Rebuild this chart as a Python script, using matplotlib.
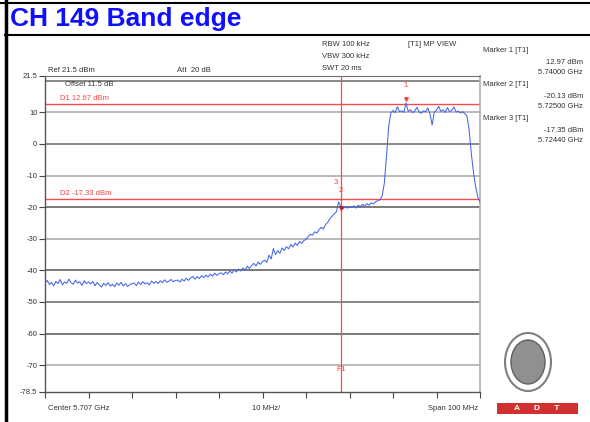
import matplotlib
matplotlib.use('Agg')
import matplotlib.pyplot as plt
from matplotlib.patches import Ellipse, Rectangle
from matplotlib.lines import Line2D
import numpy as np

plt.rcParams['font.family'] = ['Liberation Sans', 'DejaVu Sans']

# trace: frequency offset from start (MHz, start = 5.657 GHz), level in dBm
freq = np.arange(0, 100.5, 0.5)
level = [
    -44.0, -43.2, -44.5, -43.8, -44.9, -43.5, -44.2, -42.9, -44.6, -43.7, -44.1, -42.8, -43.9, -44.4, -43.1, -44.0, -43.6, -44.8, -43.3, -44.2, -43.7,
    -44.3, -43.5, -44.9, -43.8, -44.6, -45.3, -44.1, -44.8, -43.9, -45.0, -44.4, -45.2, -44.0, -44.7, -43.8, -44.9, -44.2, -45.1, -44.5, -44.2,
    -44.0, -44.8, -43.7, -44.5, -43.6, -44.3, -43.9, -44.6, -43.4, -44.1, -43.5, -44.2, -43.3, -43.9, -43.0, -43.8, -43.4, -42.9, -43.6, -43.2,
    -43.1, -43.7, -42.8, -43.4, -42.5, -43.2, -42.4, -41.9, -42.8, -42.0, -42.6, -41.7, -42.3, -41.5, -42.1, -41.2, -41.8, -40.9, -41.6, -41.0,
    -40.8, -41.4, -40.5, -41.1, -40.2, -40.9, -39.8, -40.5, -39.6, -40.2, -39.3, -39.9, -38.7, -39.4, -38.5, -37.8, -38.6, -37.4, -38.1, -37.2,
    -36.8, -37.5, -35.2, -36.4, -33.1, -35.0, -33.8, -34.6, -32.9, -33.7, -32.5, -33.2, -31.8, -32.6, -31.4, -32.1, -30.9, -31.5, -30.6, -30.2,
    -29.3, -28.6, -28.9, -27.8, -28.2, -27.1, -26.4, -26.9, -25.5, -24.8, -23.6, -22.9, -22.1, -21.4, -18.4, -19.8, -20.5, -19.9, -20.3, -20.0,
    -20.1, -19.6, -20.3, -19.4, -19.9, -19.1, -19.7, -18.9, -19.4, -18.6, -19.0, -18.3, -18.0, -17.6,
    -16.5, -12.5, -4.0, 5.5, 9.8, 10.6, 9.9, 11.8, 10.2, 10.5, 10.0, 12.97, 10.3, 10.8, 9.9, 10.4, 11.6, 10.1, 9.7, 10.5,
    10.2, 11.4, 9.5, 6.0, 10.1, 10.7, 11.9, 10.3, 10.8, 10.0, 11.5, 10.2, 10.6, 11.7, 10.1, 10.4, 9.8, 10.2, 9.6, 8.8,
    4.5, -3.0, -9.0, -13.5, -16.8, -18.4,
]

d1 = 12.67
d2 = -17.33
f1 = 68.0          # 5.725 GHz
mk1 = (83.0, 12.97)
mk2 = (68.0, -20.13)
mk3 = (67.4, -17.35)

ytick_vals = [21.5, 10, 0, -10, -20, -30, -40, -50, -60, -70, -78.5]
ytick_labels = ['21.5', '10', '0', '-10', '-20', '-30', '-40', '-50', '-60', '-70', '-78.5']
grid_vals = [20, 10, 0, -10, -20, -30, -40, -50, -60, -70]
grid_cols = ['#808080', '#b4b4b4', '#808080', '#b4b4b4', '#707070', '#b4b4b4', '#707070', '#808080', '#707070', '#b4b4b4']

marker_info = [
    ('Marker 1 [T1]', '12.97 dBm', '5.74000 GHz'),
    ('Marker 2 [T1]', '-20.13 dBm', '5.72500 GHz'),
    ('Marker 3 [T1]', '-17.35 dBm', '5.72440 GHz'),
]

fig = plt.figure(figsize=(5.9, 4.22), dpi=100)
W, H = 590, 422

def fx(px):
    return px / W

def fy(py):
    return 1 - py / H

# page frame
fig.add_artist(Line2D([fx(5), 1], [fy(3), fy(3)], color='black', lw=1.5))
fig.add_artist(Line2D([fx(5), 1], [fy(35), fy(35)], color='black', lw=1.5))
fig.add_artist(Line2D([fx(6), fx(6)], [0, 1], color='black', lw=2.5))
fig.add_artist(Line2D([0, fx(6)], [fy(3), fy(3)], color='black', lw=1.5))
fig.text(fx(10), fy(19), 'CH 149 Band edge', color='#1010ff', fontsize=19,
         fontweight='bold', va='center', ha='left')

ax = fig.add_axes([fx(45), fy(392), fx(480) - fx(45), fy(76) - fy(392)])
ax.set_xlim(0, 100)
ax.set_ylim(-78.5, 21.5)

for v, c in zip(grid_vals, grid_cols):
    ax.axhline(v, color=c, lw=1.3, zorder=1)

ax.plot(freq, level, color='#4466e6', lw=0.75, zorder=3)

ax.axhline(d1, color='#ff4848', lw=1.0, zorder=2)
ax.axhline(d2, color='#ff4848', lw=1.0, zorder=2)
ax.axvline(f1, color='#ff4848', lw=0.9, zorder=4)
ax.text(3.5, d1 + 0.6, 'D1 12.67 dBm', color='#ff4040', fontsize=5.5, va='bottom')
ax.text(3.5, d2 + 0.6, 'D2 -17.33 dBm', color='#ff4040', fontsize=5.5, va='bottom')
ax.text(f1, -71.5, 'F1', color='#ff4040', fontsize=6, ha='center', va='center')

ax.text(mk1[0], mk1[1] + 5.5, '1', color='#ff4040', fontsize=5.5, ha='center', va='center')
ax.plot(mk1[0], mk1[1] + 1.2, marker='v', ms=2.5, color='#ff4040', zorder=5)
ax.text(mk3[0] - 0.5, mk3[1] + 5.2, '3', color='#ff4040', fontsize=5.5, ha='center', va='center')
ax.text(mk2[0], mk2[1] + 5.5, '2', color='#ff4040', fontsize=5.5, ha='center', va='center')
ax.plot(mk2[0], mk2[1], marker='v', ms=2.5, color='#c02020', zorder=5)

ax.set_yticks(ytick_vals)
ax.set_yticklabels(ytick_labels, fontsize=5.5, color='#333333')
ax.set_xticks(np.arange(0, 101, 10))
ax.set_xticklabels([])
ax.tick_params(axis='both', direction='out', length=4, width=0.8, color='#444444', pad=1.5)
for s in ['left', 'bottom']:
    ax.spines[s].set_color('#555555')
    ax.spines[s].set_linewidth(1.0)
ax.spines['top'].set_color('#707070')
ax.spines['right'].set_color('#b0b0b0')
ax.spines['right'].set_linewidth(1.2)

# header texts
fs = 5.5
fig.text(fx(48), fy(71), 'Ref 21.5 dBm', fontsize=fs, color='#333333', va='center')
fig.text(fx(177), fy(71), 'Att  20 dB', fontsize=fs, color='#333333', va='center')
fig.text(fx(65), fy(85), 'Offset 11.5 dB', fontsize=fs, color='#333333', va='center')
fig.text(fx(322), fy(45), 'RBW 100 kHz', fontsize=fs, color='#333333', va='center')
fig.text(fx(322), fy(57), 'VBW 300 kHz', fontsize=fs, color='#333333', va='center')
fig.text(fx(322), fy(69), 'SWT 20 ms', fontsize=fs, color='#333333', va='center')
fig.text(fx(408), fy(45), '[T1] MP VIEW', fontsize=fs, color='#333333', va='center')

y0 = 51
for name, lv, fr in marker_info:
    fig.text(fx(483), fy(y0), name, fontsize=fs, color='#333333', va='center')
    fig.text(fx(583), fy(y0 + 11), lv, fontsize=fs, color='#333333', va='center', ha='right')
    fig.text(fx(583), fy(y0 + 22), fr, fontsize=fs, color='#333333', va='center', ha='right')
    y0 += 34

fig.text(fx(48), fy(409), 'Center 5.707 GHz', fontsize=fs, color='#333333', va='center')
fig.text(fx(252), fy(409), '10 MHz/', fontsize=fs, color='#333333', va='center')
fig.text(fx(478), fy(409), 'Span 100 MHz', fontsize=fs, color='#333333', va='center', ha='right')

# logo
fig.add_artist(Ellipse((fx(528), fy(362)), fx(46), 58 / H, fill=False, ec='#808080', lw=1.5))
fig.add_artist(Ellipse((fx(528), fy(362)), fx(34), 44 / H, fill=True, fc='#909090', ec='#606060', lw=1))
fig.add_artist(Rectangle((fx(497), fy(414)), fx(81), 11 / H, fc='#d03030', ec='none'))
fig.text(fx(537), fy(408.5), 'A      D      T', color='white', fontsize=6, fontweight='bold',
         ha='center', va='center')

plt.savefig('out.png', dpi=100)
